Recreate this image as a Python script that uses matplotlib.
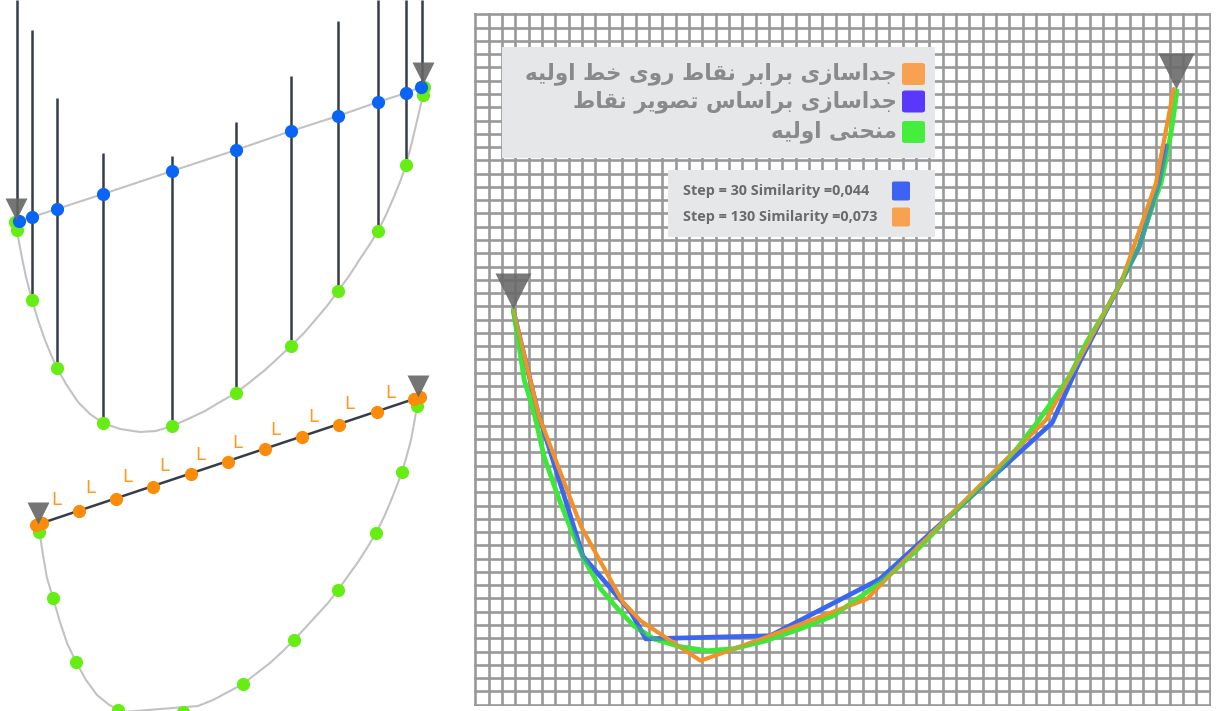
import numpy as np
import matplotlib
matplotlib.use('Agg')
import matplotlib.pyplot as plt
from matplotlib.patches import Rectangle, FancyBboxPatch

W, H = 1220, 711

# ---- left sketches (pixel-like units, y grows downward) ----
# top sketch: projection of the initial curve onto its chord
top_curve_x = [16, 17, 19, 22, 26, 32, 38, 45, 52, 57, 66, 78, 90, 103, 120, 140, 156,
               172, 188, 205, 220, 236, 250, 265, 278, 291, 304, 316, 327, 338, 349,
               360, 370, 378, 386, 393, 400, 406, 411, 416, 420, 423, 424]
top_curve_y = [222, 230, 242, 258, 277, 300, 320, 340, 357, 368, 384, 402, 414, 423,
               429, 432, 431, 426, 419, 411, 402, 393, 382, 370, 358, 346, 333, 319,
               306, 291, 276, 259, 244, 231, 215, 199, 182, 165, 146, 125, 108, 95, 87]
top_blue_x = [19, 32, 57, 103, 172, 236, 291, 338, 378, 406, 421]
top_blue_y = [221, 217, 209, 194, 171, 150, 131, 116, 102, 93, 87]
top_green_x = [15, 17, 32, 57, 103, 172, 236, 291, 338, 378, 406, 423, 424]
top_green_y = [222, 230, 300, 368, 423, 426, 393, 346, 291, 231, 165, 95, 87]
ray_x = [17, 32, 57, 103, 172, 236, 291, 338, 378, 406, 422]
ray_top = [0, 30, 98, 153, 156, 122, 76, 21, 0, 0, 0]
ray_bottom = [218, 300, 368, 423, 426, 393, 346, 291, 231, 165, 87]
top_anchor_x = [16, 423]
top_anchor_y = [209, 73]

# bottom sketch: equal spacing along the chord
bot_curve_x = [39, 40, 43, 47, 53, 60, 67, 76, 86, 97, 108, 118, 133, 150, 167, 183,
               198, 213, 228, 243, 257, 270, 282, 294, 306, 317, 328, 338, 348, 358,
               367, 376, 384, 390, 396, 402, 407, 411, 414, 417, 418]
bot_curve_y = [524, 535, 555, 578, 598, 622, 643, 662, 680, 695, 704, 710, 716, 718,
               716, 712, 706, 700, 692, 684, 673, 663, 652, 640, 627, 615, 603, 590,
               576, 562, 548, 533, 517, 503, 488, 472, 455, 440, 424, 406, 398]
bot_orange_x = [36, 42, 79, 116, 153, 191, 228, 265, 302, 339, 377, 414, 420]
bot_orange_y = [525, 523, 511, 499, 487, 474, 462, 449, 437, 425, 412, 399, 397]
bot_green_x = [39, 53, 76, 118, 183, 243, 294, 338, 376, 402, 417]
bot_green_y = [532, 598, 662, 710, 712, 684, 640, 590, 533, 472, 406]
len_mark_x = [56, 90, 127, 164, 200, 237, 275, 313, 349, 390]
len_mark_y = [500, 488, 477, 466, 455, 443, 430, 417, 404, 393]
bot_anchor_x = [38, 418]
bot_anchor_y = [513, 386]

# ---- right panel (grid cells, y grows downward) ----
n_cols, n_rows = 55, 52
green_x = [2.84, 3.21, 3.66, 4.40, 5.15, 6.19, 7.16, 8.13, 9.40, 10.67, 11.87, 13.36,
           15.37, 17.39, 19.33, 21.72, 24.33, 26.79, 29.03, 31.27, 33.28, 35.30, 37.39,
           39.25, 40.75, 42.24, 44.48, 45.75, 47.24, 48.43, 49.70, 50.60, 51.34, 51.87,
           52.24, 52.54]
green_y = [22.28, 24.53, 27.53, 30.01, 33.31, 36.31, 38.78, 41.03, 43.29, 44.79, 46.06,
           47.04, 47.64, 47.94, 47.79, 47.19, 46.29, 45.31, 43.74, 42.01, 40.14, 38.04,
           36.08, 34.28, 32.48, 30.53, 27.31, 24.76, 22.28, 20.03, 17.55, 14.78, 12.75,
           10.28, 8.03, 5.78]
blue_x = [2.84, 4.70, 8.06, 11.64, 12.76, 22.09, 30.30, 43.21, 45.22, 49.70, 51.19, 51.79]
blue_y = [22.28, 30.01, 40.81, 45.01, 47.04, 46.81, 42.54, 30.76, 26.26, 17.55, 12.75, 9.90]
orange_x = [2.84, 4.78, 7.91, 11.04, 12.39, 16.87, 22.09, 29.33, 31.27, 42.76, 48.43,
            50.97, 52.31]
orange_y = [22.28, 30.31, 38.56, 44.26, 45.69, 48.69, 46.81, 44.04, 42.01, 30.53, 20.03,
            12.75, 5.63]
anchor_x = [2.84, 52.46]
anchor_y = [20.86, 4.28]

legend_labels = ['جداسازی برابر نقاط روی خط اولیه',
                 'جداسازی براساس تصویر نقاط',
                 'منحنی اولیه']
legend_colors = ['#f8a151', '#5a38fb', '#45ee3c']
step_labels = ['Step = 30 Similarity =0,044', 'Step = 130 Similarity =0,073']
step_colors = ['#3d63f5', '#f8a151']

# contextual forms for the Persian letters used in the legend
AR_FORMS = {
    '\u0627': ('\ufe8d', '\ufe8e', None, None),
    '\u0628': ('\ufe8f', '\ufe90', '\ufe91', '\ufe92'),
    '\u062a': ('\ufe95', '\ufe96', '\ufe97', '\ufe98'),
    '\u062c': ('\ufe9d', '\ufe9e', '\ufe9f', '\ufea0'),
    '\u062d': ('\ufea1', '\ufea2', '\ufea3', '\ufea4'),
    '\u062e': ('\ufea5', '\ufea6', '\ufea7', '\ufea8'),
    '\u062f': ('\ufea9', '\ufeaa', None, None),
    '\u0631': ('\ufead', '\ufeae', None, None),
    '\u0632': ('\ufeaf', '\ufeb0', None, None),
    '\u0633': ('\ufeb1', '\ufeb2', '\ufeb3', '\ufeb4'),
    '\u0635': ('\ufeb9', '\ufeba', '\ufebb', '\ufebc'),
    '\u0637': ('\ufec1', '\ufec2', '\ufec3', '\ufec4'),
    '\u0642': ('\ufed5', '\ufed6', '\ufed7', '\ufed8'),
    '\u0644': ('\ufedd', '\ufede', '\ufedf', '\ufee0'),
    '\u0645': ('\ufee1', '\ufee2', '\ufee3', '\ufee4'),
    '\u0646': ('\ufee5', '\ufee6', '\ufee7', '\ufee8'),
    '\u0647': ('\ufee9', '\ufeea', '\ufeeb', '\ufeec'),
    '\u0648': ('\ufeed', '\ufeee', None, None),
    '\u06cc': ('\ufbfc', '\ufbfd', '\ufbfe', '\ufbff'),
}


def rtl(text):
    # shape the letters and flip to visual order, matplotlib does neither
    text = text.replace('\u064a', '\u06cc')
    out = []
    for i, ch in enumerate(text):
        if ch not in AR_FORMS:
            out.append(ch)
            continue
        prev = text[i - 1] if i > 0 else ''
        nxt = text[i + 1] if i + 1 < len(text) else ''
        joins_prev = prev in AR_FORMS and AR_FORMS[prev][2] is not None
        joins_next = AR_FORMS[ch][2] is not None and nxt in AR_FORMS
        iso, fin, ini, med = AR_FORMS[ch]
        if joins_prev and joins_next:
            out.append(med)
        elif joins_prev:
            out.append(fin)
        elif joins_next:
            out.append(ini)
        else:
            out.append(iso)
    return ''.join(reversed(out))


def fx(px):
    return px / W


def fy(py):
    return 1 - py / H


fig = plt.figure(figsize=(W / 100, H / 100), dpi=100)
fig.patch.set_facecolor('white')

# left sketches
ax = fig.add_axes([0, 0, 465 / W, 1])
ax.set_xlim(0, 465)
ax.set_ylim(H, 0)
ax.axis('off')

ax.plot(top_curve_x, top_curve_y, color='#c2c2c2', lw=1.5, zorder=1)
ax.plot(top_blue_x, top_blue_y, color='#c2c2c2', lw=1.5, zorder=1)
ax.vlines(ray_x, ray_top, ray_bottom, color='#363c4a', lw=1.8, zorder=2)
ax.plot(top_green_x, top_green_y, 'o', ms=9.5, color='#66ee14', mec='none', zorder=3)
ax.plot(top_blue_x, top_blue_y, 'o', ms=9.5, color='#0a64f5', mec='none', zorder=4)
ax.plot(top_anchor_x, top_anchor_y, 'v', ms=16, color='#666666', alpha=0.9,
        mec='none', zorder=5)

ax.plot(bot_curve_x, bot_curve_y, color='#c2c2c2', lw=1.5, zorder=1)
ax.plot([bot_orange_x[0], bot_orange_x[-1]], [bot_orange_y[0], bot_orange_y[-1]],
        color='#363c4a', lw=1.8, zorder=2)
ax.plot(bot_green_x, bot_green_y, 'o', ms=9.5, color='#66ee14', mec='none', zorder=3)
ax.plot(bot_orange_x, bot_orange_y, 'o', ms=9.5, color='#fb8c0a', mec='none', zorder=4)
for x, y in zip(len_mark_x, len_mark_y):
    ax.text(x, y, 'L', color='#ff9a1e', fontsize=13, ha='center', va='center', zorder=4)
ax.plot(bot_anchor_x, bot_anchor_y, 'v', ms=16, color='#666666', alpha=0.9,
        mec='none', zorder=5)

# right panel: raster grid with the three curves
x0, x1, y0, y1 = 474, 1211, 13, 706
ar = fig.add_axes([fx(x0), fy(y1), (x1 - x0) / W, (y1 - y0) / H])
ar.set_xlim(-0.1, n_cols + 0.1)
ar.set_ylim(n_rows + 0.1, -0.1)
ar.set_xticks(np.arange(n_cols + 1))
ar.set_yticks(np.arange(n_rows + 1))
ar.tick_params(length=0, labelbottom=False, labelleft=False)
ar.grid(True, color='#999999', lw=1.9)
ar.set_axisbelow(True)
for s in ar.spines.values():
    s.set_visible(False)

ar.plot(green_x, green_y, color='#3ee83a', lw=3.4, solid_capstyle='round',
        solid_joinstyle='round', zorder=2)
ar.plot(blue_x, blue_y, color='#3a66f2', lw=3.4, solid_capstyle='round', zorder=3)
ar.plot(orange_x, orange_y, color='#f4902a', lw=3.0, solid_capstyle='round', zorder=4)
ar.plot(green_x, green_y, color='#3ee83a', lw=3.4, alpha=0.45, zorder=5)
ar.plot(anchor_x, anchor_y, 'v', ms=26, color='#6a6a6a', alpha=0.9, mec='none',
        zorder=6, clip_on=False)

# legend boxes
fig.add_artist(Rectangle((fx(502), fy(158)), 433 / W, 111 / H, transform=fig.transFigure,
                         facecolor='#e6e7e9', edgecolor='none', zorder=5))
rows_y = [74, 101.5, 132]
for label, color, ry in zip(legend_labels, legend_colors, rows_y):
    fig.add_artist(FancyBboxPatch((fx(902), fy(ry + 11)), 23 / W, 22 / H,
                                  boxstyle='round,pad=0,rounding_size=0.003',
                                  transform=fig.transFigure, facecolor=color,
                                  edgecolor='none', zorder=6))
    fig.text(fx(897), fy(ry), rtl(label), ha='right', va='center', fontsize=15.5,
             fontweight='bold', family=['DejaVu Sans'], color='#8a8a8a', zorder=7)

fig.add_artist(Rectangle((fx(668), fy(237)), 267 / W, 67 / H, transform=fig.transFigure,
                         facecolor='#e6e7e9', edgecolor='none', zorder=5))
for label, color, ry in zip(step_labels, step_colors, [191, 217]):
    fig.add_artist(FancyBboxPatch((fx(892), fy(ry + 9.5)), 18 / W, 19 / H,
                                  boxstyle='round,pad=0,rounding_size=0.002',
                                  transform=fig.transFigure, facecolor=color,
                                  edgecolor='none', zorder=6))
    fig.text(fx(683), fy(ry), label, ha='left', va='center', fontsize=10.4,
             fontweight='bold', family=['Open Sans'], color='#6a6a6a', zorder=7)

fig.savefig('out.png', dpi=100)
